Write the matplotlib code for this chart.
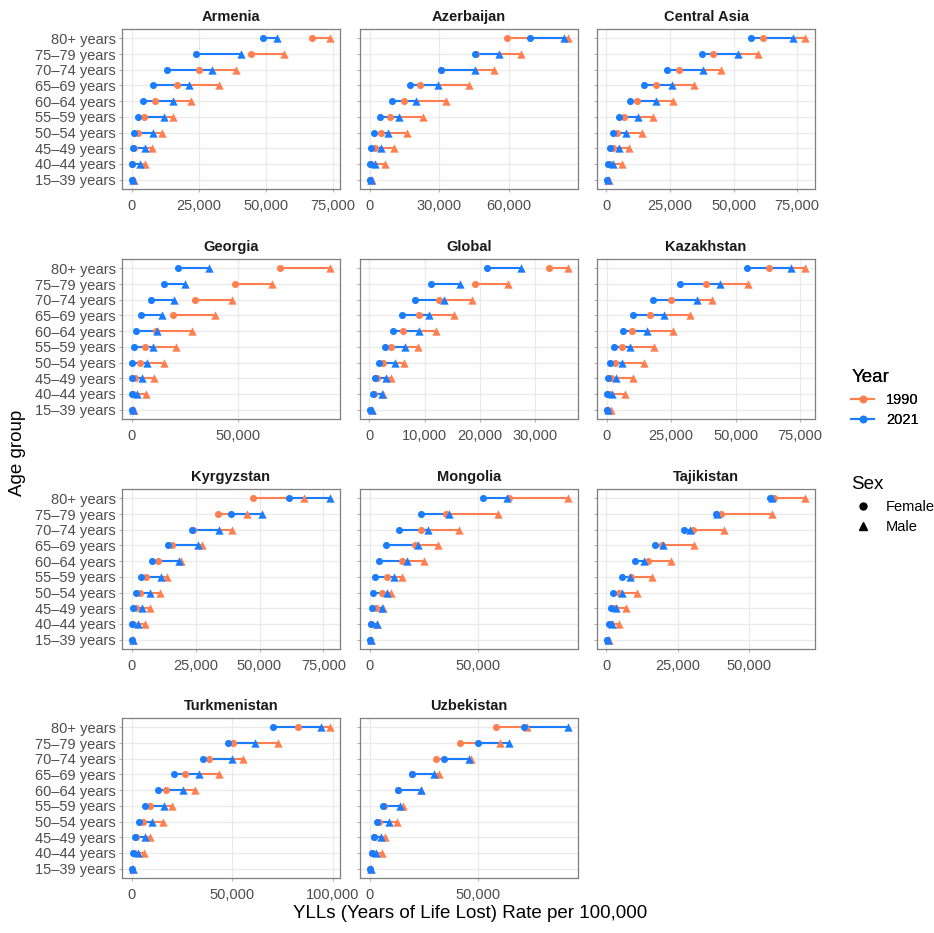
import matplotlib
matplotlib.use("Agg")
import matplotlib.pyplot as plt
from matplotlib.lines import Line2D

plt.rcParams["font.family"] = ["Liberation Sans", "DejaVu Sans"]

# age groups, bottom to top
ages = ["15–39 years", "40–44 years", "45–49 years", "50–54 years", "55–59 years",
        "60–64 years", "65–69 years", "70–74 years", "75–79 years", "80+ years"]

countries = ["Armenia", "Azerbaijan", "Central Asia", "Georgia", "Global", "Kazakhstan",
             "Kyrgyzstan", "Mongolia", "Tajikistan", "Turkmenistan", "Uzbekistan"]

female_1990 = {
    "Armenia":      [200, 300, 900, 2200, 4500, 8700, 17000, 25000, 44500, 67300],
    "Azerbaijan":   [300, 700, 2100, 5000, 8600, 14600, 21700, 30900, 45800, 59000],
    "Central Asia": [300, 1600, 2600, 4200, 6900, 12200, 19300, 28500, 41900, 61700],
    "Georgia":      [200, 600, 1700, 3800, 6400, 11600, 19400, 29900, 48400, 69900],
    "Global":       [200, 800, 1400, 2500, 4000, 6000, 8900, 12500, 19000, 32500],
    "Kazakhstan":   [300, 1000, 1500, 3200, 5800, 10000, 16700, 25100, 38500, 62800],
    "Kyrgyzstan":   [200, 500, 1800, 3300, 5600, 10200, 15900, 23800, 33700, 47400],
    "Mongolia":     [100, 600, 2600, 5400, 8000, 14800, 20900, 23500, 35300, 64100],
    "Tajikistan":   [300, 1700, 2900, 4600, 8700, 14500, 19300, 30200, 40100, 58500],
    "Turkmenistan": [100, 1000, 2300, 5800, 9300, 16900, 26300, 38700, 50300, 82600],
    "Uzbekistan":   [200, 1100, 2100, 4000, 6400, 13100, 19200, 30300, 41600, 58000],
}
male_1990 = {
    "Armenia":      [800, 5000, 7700, 11400, 15400, 22000, 32600, 38800, 56900, 74100],
    "Azerbaijan":   [900, 6700, 10400, 16000, 23100, 33000, 42900, 53300, 65300, 85400],
    "Central Asia": [1000, 6200, 8900, 13800, 18200, 26000, 34500, 45200, 59600, 78100],
    "Georgia":      [1100, 6900, 10300, 15400, 20700, 28200, 39000, 47300, 66100, 93400],
    "Global":       [500, 2500, 4000, 6300, 8700, 12100, 15300, 18600, 25000, 35900],
    "Kazakhstan":   [1500, 7200, 10300, 14600, 18300, 25600, 32400, 41000, 54900, 76900],
    "Kyrgyzstan":   [600, 5200, 7300, 10900, 13800, 19400, 27500, 39200, 45000, 67400],
    "Mongolia":     [500, 3400, 6000, 9800, 15000, 24800, 31600, 41300, 59000, 91400],
    "Tajikistan":   [900, 4600, 6900, 10800, 16100, 22600, 30700, 41100, 58000, 69500],
    "Turkmenistan": [700, 6300, 9100, 15700, 20000, 31500, 43200, 55600, 73000, 98700],
    "Uzbekistan":   [600, 5800, 7000, 12400, 15400, 23500, 32000, 46800, 60200, 72600],
}
female_2021 = {
    "Armenia":      [100, 200, 400, 1000, 2200, 4200, 8000, 13200, 24100, 49000],
    "Azerbaijan":   [100, 300, 700, 1900, 4400, 9400, 17300, 30700, 45400, 69000],
    "Central Asia": [200, 700, 1300, 2600, 4800, 9400, 14600, 24000, 37500, 56900],
    "Georgia":      [100, 100, 200, 300, 1100, 2200, 4500, 8900, 15000, 21800],
    "Global":       [100, 700, 1100, 1800, 2800, 4200, 5900, 8200, 11200, 21200],
    "Kazakhstan":   [100, 300, 600, 1300, 2800, 6200, 10300, 17900, 28500, 54200],
    "Kyrgyzstan":   [100, 100, 700, 1600, 3600, 7800, 14200, 23600, 38900, 61700],
    "Mongolia":     [0, 300, 1100, 1500, 2300, 4300, 7600, 13600, 23700, 52000],
    "Tajikistan":   [200, 800, 1500, 2500, 5400, 10100, 17100, 27000, 38200, 57300],
    "Turkmenistan": [100, 700, 1500, 3500, 6600, 13200, 20900, 35400, 47700, 70200],
    "Uzbekistan":   [0, 800, 1800, 3200, 6100, 13000, 19300, 34300, 49800, 71100],
}
male_2021 = {
    "Armenia":      [600, 3000, 5100, 8100, 12200, 15500, 21400, 30000, 40700, 54400],
    "Azerbaijan":   [500, 2400, 5000, 7900, 12600, 20000, 29600, 45400, 55700, 83600],
    "Central Asia": [800, 2700, 4900, 7800, 12400, 19400, 25900, 37800, 51700, 73200],
    "Georgia":      [600, 2700, 5000, 7200, 10200, 11800, 14400, 19700, 25200, 36200],
    "Global":       [500, 2200, 3000, 4600, 6500, 8900, 10700, 13400, 16400, 27400],
    "Kazakhstan":   [600, 2200, 3600, 5800, 9200, 15600, 22300, 34900, 43800, 71300],
    "Kyrgyzstan":   [400, 2300, 4200, 7000, 11500, 18400, 25900, 34000, 51000, 77600],
    "Mongolia":     [300, 3100, 5400, 8000, 11000, 17100, 22000, 26800, 36500, 63300],
    "Tajikistan":   [600, 2100, 3500, 5400, 8300, 13000, 19700, 29200, 38800, 57900],
    "Turkmenistan": [500, 3100, 6500, 10300, 16200, 25500, 33400, 49800, 61300, 94200],
    "Uzbekistan":   [500, 2800, 5200, 9000, 14100, 23700, 29500, 45600, 64100, 91400],
}

x_ticks = {
    "Armenia": [0, 25000, 50000, 75000],
    "Azerbaijan": [0, 30000, 60000],
    "Central Asia": [0, 25000, 50000, 75000],
    "Georgia": [0, 50000],
    "Global": [0, 10000, 20000, 30000],
    "Kazakhstan": [0, 25000, 50000, 75000],
    "Kyrgyzstan": [0, 25000, 50000, 75000],
    "Mongolia": [0, 50000],
    "Tajikistan": [0, 25000, 50000],
    "Turkmenistan": [0, 50000, 100000],
    "Uzbekistan": [0, 50000],
}

ORANGE = "#FF7F50"
BLUE = "#1A7DFF"
GRID = "#EBEBEB"
TEXT = "#4D4D4D"

W, H = 934, 933
fig = plt.figure(figsize=(W / 100, H / 100), dpi=100)

col_left = [122, 360, 597]
row_top = [29, 259, 489, 718]
pw, ph = 218, 160

ypos = list(range(1, len(ages) + 1))

for i, name in enumerate(countries):
    r, c = divmod(i, 3)
    ax = fig.add_axes([col_left[c] / W, 1 - (row_top[r] + ph) / H, pw / W, ph / H])
    ax.set_facecolor("white")

    series = [(female_1990[name], male_1990[name], ORANGE),
              (female_2021[name], male_2021[name], BLUE)]
    for f, m, col in series:
        ax.hlines(ypos, f, m, color=col, lw=1.5, zorder=2)
    for f, m, col in series:
        ax.scatter(f, ypos, s=26, marker="o", color=col, lw=0, zorder=3)
        ax.scatter(m, ypos, s=36, marker="^", color=col, lw=0, zorder=3)

    ax.margins(x=0.05)
    ax.set_ylim(0.4, len(ages) + 0.6)
    ax.set_yticks(ypos)
    ax.set_xticks(x_ticks[name])
    ax.set_xticklabels([f"{v:,}" for v in x_ticks[name]])
    if c == 0:
        ax.set_yticklabels(ages)
    else:
        ax.set_yticklabels([])
    ax.grid(True, color=GRID, lw=1.0, zorder=0)
    ax.set_axisbelow(True)
    for sp in ax.spines.values():
        sp.set_color("#7F7F7F")
        sp.set_linewidth(0.9)
    ax.tick_params(axis="both", colors="#B3B3B3", length=2.5, width=0.8,
                   labelcolor=TEXT, labelsize=10.5, pad=2)
    ax.tick_params(axis="x", pad=5)
    ax.set_title(name, fontsize=10.5, fontweight="bold", color="#1A1A1A", pad=6)

fig.text(470 / W, 1 - 913 / H, "YLLs (Years of Life Lost) Rate per 100,000",
         ha="center", va="center", fontsize=13.5)
fig.text(18 / W, 1 - 453 / H, "Age group", rotation=90, ha="center", va="center",
         fontsize=13.5)

year_handles = [
    Line2D([0], [0], color=ORANGE, lw=1.5, marker="o", markersize=4.5, label="1990"),
    Line2D([0], [0], color=BLUE, lw=1.5, marker="o", markersize=4.5, label="2021"),
]
sex_handles = [
    Line2D([0], [0], color="black", lw=0, marker="o", markersize=5, label="Female"),
    Line2D([0], [0], color="black", lw=0, marker="^", markersize=5.5, label="Male"),
]
leg1 = fig.legend(handles=year_handles, title="Year", loc="upper left",
                  bbox_to_anchor=(838 / W, 1 - 356 / H), frameon=False, fontsize=10.5,
                  title_fontsize=13.5, handlelength=1.6, alignment="left",
                  labelspacing=0.45)
fig.legend(handles=sex_handles, title="Sex", loc="upper left",
           bbox_to_anchor=(838 / W, 1 - 463 / H), frameon=False, fontsize=10.5,
           title_fontsize=13.5, handlelength=1.6, alignment="left",
           labelspacing=0.45)
fig.add_artist(leg1)

fig.savefig("out.png", dpi=100, facecolor="white")
